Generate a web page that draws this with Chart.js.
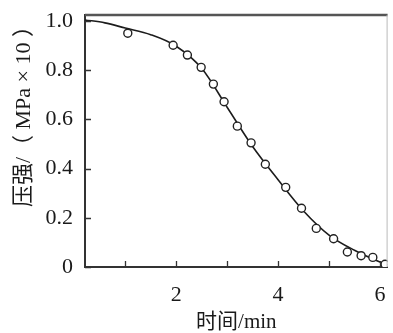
<!DOCTYPE html>
<html>
<head>
<meta charset="utf-8">
<script src="https://cdn.jsdelivr.net/npm/chart.js@4/dist/chart.umd.min.js"></script>
<style>
  html, body { margin: 0; padding: 0; background: #fff; }
  #wrap { width: 393px; height: 333px; }
</style>
</head>
<body>
<div id="wrap"><canvas id="c" width="393" height="333"></canvas></div>
<script>
// Measured points (time in min, pressure in MPa×10)
const pointTimes  = [1.05, 1.94, 2.22, 2.49, 2.73, 2.94, 3.20, 3.47, 3.75, 4.15, 4.46, 4.75, 5.09, 5.36, 5.63, 5.86, 6.10];
const pointValues = [0.951, 0.902, 0.862, 0.812, 0.744, 0.672, 0.573, 0.505, 0.418, 0.324, 0.239, 0.157, 0.115, 0.061, 0.046, 0.039, 0.011];

// Fitted curve
const curveTimes  = [0.21, 0.6, 1.0, 1.5, 2.0, 2.5, 3.0, 3.5, 4.0, 4.5, 5.0, 5.5, 6.0, 6.15];
const curveValues = [1.005, 0.993, 0.972, 0.945, 0.898, 0.808, 0.650, 0.490, 0.355, 0.228, 0.130, 0.068, 0.020, 0.008];

const xTicks = [1, 2, 3, 4, 5, 6];
const xLabelled = [2, 4, 6];
const yTicks = [0, 0.2, 0.4, 0.6, 0.8, 1.0];

const serif = "'Liberation Serif', 'Noto Sans CJK SC', serif";

const frame = {
  id: 'frame',
  afterDraw(chart) {
    const {ctx, chartArea: a, scales} = chart;
    ctx.save();
    // inward tick marks
    ctx.strokeStyle = '#333';
    ctx.lineWidth = 1.3;
    ctx.beginPath();
    xTicks.forEach(v => {
      const px = Math.round(scales.x.getPixelForValue(v)) + 0.5;
      ctx.moveTo(px, a.bottom);
      ctx.lineTo(px, a.bottom - 6);
    });
    yTicks.forEach(v => {
      const py = Math.round(scales.y.getPixelForValue(v)) + 0.5;
      ctx.moveTo(a.left, py);
      ctx.lineTo(a.left + 6, py);
    });
    ctx.stroke();
    // top border
    ctx.strokeStyle = '#555';
    ctx.lineWidth = 2.5;
    ctx.beginPath();
    ctx.moveTo(a.left, a.top);
    ctx.lineTo(a.right, a.top);
    ctx.stroke();
    // right border
    ctx.strokeStyle = '#bbb';
    ctx.lineWidth = 1;
    ctx.beginPath();
    ctx.moveTo(a.right - 0.5, a.top);
    ctx.lineTo(a.right - 0.5, a.bottom);
    ctx.stroke();
    ctx.restore();
  }
};

new Chart(document.getElementById('c'), {
  type: 'scatter',
  data: {
    datasets: [
      {
        data: curveTimes.map((t, i) => ({x: t, y: curveValues[i]})),
        showLine: true,
        borderColor: '#1c1c1c',
        borderWidth: 1.6,
        pointRadius: 0,
        cubicInterpolationMode: 'monotone',
        order: 2
      },
      {
        data: pointTimes.map((t, i) => ({x: t, y: pointValues[i]})),
        showLine: false,
        pointRadius: 4,
        pointBorderWidth: 1.4,
        pointBorderColor: '#222',
        pointBackgroundColor: '#fff',
        order: 1
      }
    ]
  },
  options: {
    responsive: false,
    animation: false,
    layout: { padding: { left: 0, right: 1, top: 15, bottom: 0 } },
    plugins: { legend: { display: false }, tooltip: { enabled: false } },
    scales: {
      x: {
        type: 'linear',
        min: 0.21,
        max: 6.15,
        afterBuildTicks: s => { s.ticks = xTicks.map(v => ({value: v})); },
        afterFit: s => { s.height = 66; s.paddingLeft = 0; s.paddingRight = 0; },
        grid: { display: false, drawTicks: false },
        border: { display: true, color: '#333', width: 2 },
        ticks: {
          autoSkip: false,
          maxRotation: 0,
          padding: 15,
          color: '#1a1a1a',
          font: { family: serif, size: 22 },
          callback: v => xLabelled.includes(v) ? String(v) : ''
        },
        title: {
          display: true,
          text: '时间/min',
          color: '#1a1a1a',
          font: { family: serif, size: 21, lineHeight: 1 },
          padding: { top: 0, bottom: 0 }
        }
      },
      y: {
        min: 0,
        max: 1.025,
        afterBuildTicks: s => { s.ticks = yTicks.map(v => ({value: v})); },
        afterFit: s => { s.width = 85; s.paddingTop = 0; s.paddingBottom = 0; },
        grid: { display: false, drawTicks: false },
        border: { display: true, color: '#333', width: 2 },
        ticks: {
          padding: 12,
          color: '#1a1a1a',
          font: { family: serif, size: 22 },
          callback: v => v === 0 ? '0' : v.toFixed(1)
        },
        title: {
          display: true,
          text: '压强/（ MPa × 10 ）',
          align: 'end',
          color: '#1a1a1a',
          font: { family: serif, size: 22, lineHeight: 1 },
          padding: { top: 13, bottom: 0 }
        }
      }
    }
  },
  plugins: [frame]
});
</script>
</body>
</html>
